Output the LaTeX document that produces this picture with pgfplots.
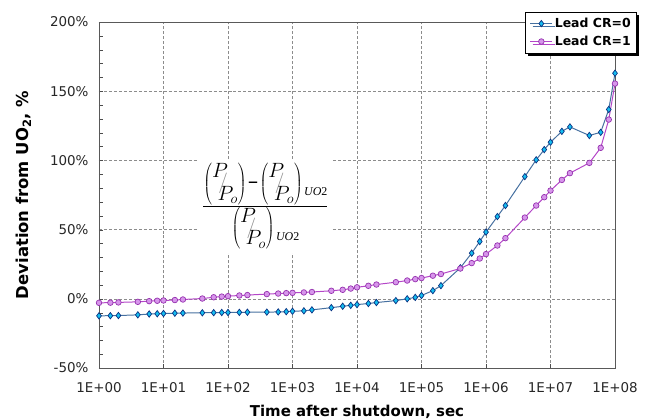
\documentclass[border=0pt]{standalone}
\usepackage{pgfplots}
\pgfplotsset{compat=1.18}
\usepackage{fontspec}
\setmainfont{DejaVu Sans}
\newfontfamily\serif{Liberation Serif}
\usetikzlibrary{shadows}

\definecolor{crzline}{RGB}{70,112,160}
\definecolor{crzfill}{RGB}{20,190,240}
\definecolor{crzedge}{RGB}{10,50,130}
\definecolor{cronline}{RGB}{180,70,200}
\definecolor{cronfill}{RGB}{215,150,235}
\definecolor{cronedge}{RGB}{150,50,175}

% slashed P/Po in tall parentheses
\newcommand{\ppo}{\left(\raisebox{1.0ex}{$P$}\kern-0.45em{\color{black!45}\bigg/}\kern-0.5em\raisebox{-1.0ex}{$P_o$}\right)}
\newcommand{\uo}{\kern-0.1em\raisebox{-0.6ex}{\serif\itshape\fontsize{12}{12}\selectfont UO\upshape2}}

\pgfplotstableread{
t dev
1 -12.3
1.5 -12.2
2 -12.1
4 -11.6
6 -11.0
8 -10.8
10 -10.6
15 -10.4
20 -10.3
40 -10.1
60 -10.0
80 -9.9
100 -9.9
150 -9.8
200 -9.7
400 -9.6
600 -9.5
800 -9.3
1000 -9.0
1500 -8.7
2000 -8.0
4000 -6.4
6000 -5.4
8000 -4.7
1e4 -4.2
1.5e4 -3.4
2e4 -2.7
4e4 -1.3
6e4 0.0
8e4 1.0
1e5 2.4
1.5e5 5.9
2e5 9.5
4e5 22.4
6e5 33.0
8e5 41.4
1e6 48.2
1.5e6 59.4
2e6 67.4
4e6 88.3
6e6 100.4
8e6 107.8
1e7 113.1
1.5e7 121.0
2e7 124.2
4e7 118.0
6e7 120.3
8e7 136.8
1e8 163.0
}\crzero

\pgfplotstableread{
t dev
1 -2.9
1.5 -2.8
2 -2.6
4 -2.2
6 -1.7
8 -1.4
10 -1.2
15 -0.9
20 -0.5
40 0.2
60 1.1
80 1.6
100 1.9
150 2.4
200 2.7
400 3.4
600 3.8
800 4.1
1000 4.3
1500 4.6
2000 4.9
4000 5.8
6000 6.5
8000 7.4
1e4 8.3
1.5e4 9.4
2e4 10.3
4e4 12.0
6e4 13.2
8e4 14.2
1e5 15.0
1.5e5 16.7
2e5 17.9
4e5 21.9
6e5 25.8
8e5 29.1
1e6 32.3
1.5e6 38.5
2e6 43.8
4e6 58.7
6e6 67.4
8e6 73.4
1e7 78.2
1.5e7 85.9
2e7 90.8
4e7 98.2
6e7 109.1
8e7 129.5
1e8 155.5
}\crone

\begin{document}
\begin{tikzpicture}
\begin{semilogxaxis}[
    name=ax,
    scale only axis,
    width=516bp, height=346bp,
    xmin=1, xmax=1e8,
    ymin=-50, ymax=200,
    log basis x=10,
    xtick={1,10,100,1000,1e4,1e5,1e6,1e7,1e8},
    xticklabels={1E+00,1E+01,1E+02,1E+03,1E+04,1E+05,1E+06,1E+07,1E+08},
    ytick={-50,0,50,100,150,200},
    yticklabels={-50\%,0\%,50\%,100\%,150\%,200\%},
    minor y tick num=4,
    tick label style={font=\fontsize{13.5}{15}\selectfont, text=black!85},
    xticklabel style={yshift=-11bp},
    yticklabel style={xshift=-7bp},
    xtick pos=bottom, ytick pos=left,
    tick align=inside,
    major tick length=4bp, minor tick length=4bp,
    tick style={black!70},
    axis line style={black!65, line width=0.9pt},
    grid=major,
    major grid style={black!45, densely dashed, line width=0.6pt},
    xlabel={\bfseries Time after shutdown, sec},
    ylabel={\bfseries Deviation from UO$_{\mathbf 2}$, \%},
    xlabel style={font=\fontsize{15}{17}\selectfont, yshift=-6bp},
    ylabel style={font=\fontsize{16.5}{18}\selectfont, yshift=12bp},
    legend cell align=left,
    legend image code/.code={
        \draw[mark repeat=2, mark phase=2] plot coordinates {(0bp,0bp) (11bp,0bp) (22bp,0bp)};},
    legend style={
        at={(rel axis cs:1.043,1.03)}, anchor=north east,
        draw=black, line width=1pt, fill=white,
        drop shadow={shadow xshift=2.5bp, shadow yshift=-2.5bp, fill=black, opacity=1},
        font=\fontsize{12.5}{14}\selectfont\bfseries,
        inner xsep=4bp, inner ysep=4bp, row sep=3bp,
    },
]
\addplot[crzline, line width=1pt, mark=diamond*, mark size=3.2bp,
    mark options={fill=crzfill, draw=crzedge, line width=0.7pt}]
    table[x=t, y=dev] {\crzero};
\addlegendentry{Lead CR=0}
\addplot[cronline, line width=1pt, mark=*, mark size=2.8bp,
    mark options={fill=cronfill, draw=cronedge, line width=0.7pt}]
    table[x=t, y=dev] {\crone};
\addlegendentry{Lead CR=1}

\node[fill=white, inner sep=4bp, font=\fontsize{21}{23}\selectfont]
    at (axis cs:380,67)
    {$\displaystyle\frac{\ppo\kern-0.1em\mbox{--}\kern-0.1em\ppo\uo}{\ppo\uo}$};
\end{semilogxaxis}
\pgfresetboundingbox
\path[use as bounding box] ([shift={(-99bp,-51bp)}]ax.south west) rectangle ([shift={(44bp,22bp)}]ax.north east);
\end{tikzpicture}
\end{document}
